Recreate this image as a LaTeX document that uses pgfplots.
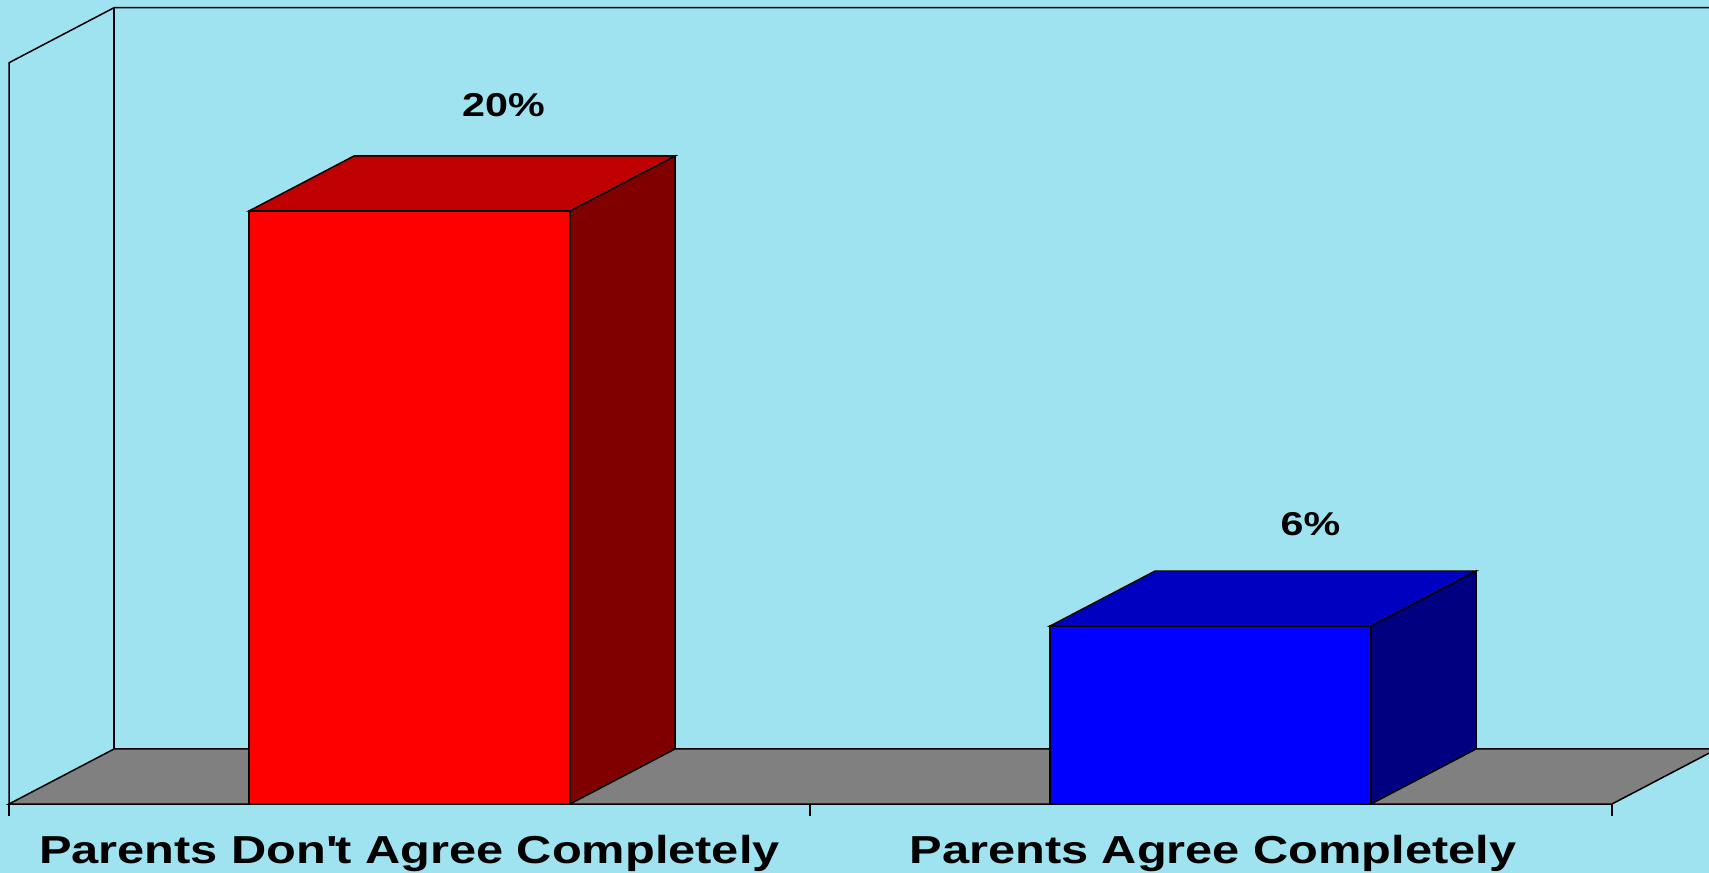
\documentclass[border=0pt]{standalone}
\usepackage{pgfplots}
\pgfplotsset{compat=1.18}
\usepackage{fontspec}
\setmainfont{Liberation Sans}[FakeStretch=1.25]
\definecolor{bgc}{RGB}{160,227,240}
\definecolor{floorgray}{RGB}{128,128,128}
\definecolor{redfront}{RGB}{255,0,0}
\definecolor{redtop}{RGB}{192,0,0}
\definecolor{redside}{RGB}{128,0,0}
\definecolor{bluefront}{RGB}{0,0,255}
\definecolor{bluetop}{RGB}{0,0,192}
\definecolor{blueside}{RGB}{0,0,128}
\begin{document}
\begin{tikzpicture}
\begin{axis}[
  scale only axis, width=854.5pt, height=436.5pt,
  xmin=0, xmax=1709, ymin=-2.327, ymax=27.116,
  hide axis, clip=true,
  /pgf/number format/assume math mode=true,
]
\fill[bgc] (rel axis cs:0,0) rectangle (rel axis cs:1,1);
% floor
\addplot[fill=floorgray, draw=black, line width=0.75pt] coordinates {(9,0) (1612,0) (1717,1.855) (114,1.855)} -- cycle;
% walls
\addplot[black, line width=0.75pt] coordinates {(9,0) (9,25) (114,26.855) (1800,26.855)};
\addplot[black, line width=0.75pt] coordinates {(114,1.855) (114,26.855)};
% ticks
\addplot[black, line width=0.75pt] coordinates {(9,0) (9,-0.4)};
\addplot[black, line width=0.75pt] coordinates {(810,0) (810,-0.4)};
\addplot[black, line width=0.75pt] coordinates {(1612,0) (1612,-0.4)};
% red bar: side and top
\addplot[fill=redside, draw=black, line width=0.75pt] coordinates {(570,0) (570,20) (675,21.855) (675,1.855)} -- cycle;
\addplot[fill=redtop, draw=black, line width=0.75pt] coordinates {(249,20) (570,20) (675,21.855) (354,21.855)} -- cycle;
% blue bar: side and top
\addplot[fill=blueside, draw=black, line width=0.75pt] coordinates {(1371,0) (1371,6) (1476,7.855) (1476,1.855)} -- cycle;
\addplot[fill=bluetop, draw=black, line width=0.75pt] coordinates {(1050,6) (1371,6) (1476,7.855) (1155,7.855)} -- cycle;
% fronts with value labels
\addplot[ybar, bar width=321, fill=redfront, draw=black, line width=0.75pt,
  nodes near coords={\pgfmathprintnumber{\pgfplotspointmeta}\%},
  every node near coord/.style={anchor=center, xshift=47pt, yshift=53pt, text=black, font=\bfseries\fontsize{16.5}{16.5}\selectfont}]
  coordinates {(409.5,20)};
\addplot[ybar, bar width=321, fill=bluefront, draw=black, line width=0.75pt,
  nodes near coords={\pgfmathprintnumber{\pgfplotspointmeta}\%},
  every node near coord/.style={anchor=center, xshift=50pt, yshift=51pt, text=black, font=\bfseries\fontsize{16.5}{16.5}\selectfont}]
  coordinates {(1210.5,6)};
% category labels
\node[font=\bfseries\fontsize{19.5}{19.5}\selectfont, anchor=base, inner sep=0pt] at (axis cs:409.5,-2.02) {Parents Don\textquotesingle t Agree Completely};
\node[font=\bfseries\fontsize{19.5}{19.5}\selectfont, anchor=base, inner sep=0pt] at (axis cs:1213,-2.02) {Parents Agree Completely};
\end{axis}
\end{tikzpicture}
\end{document}
